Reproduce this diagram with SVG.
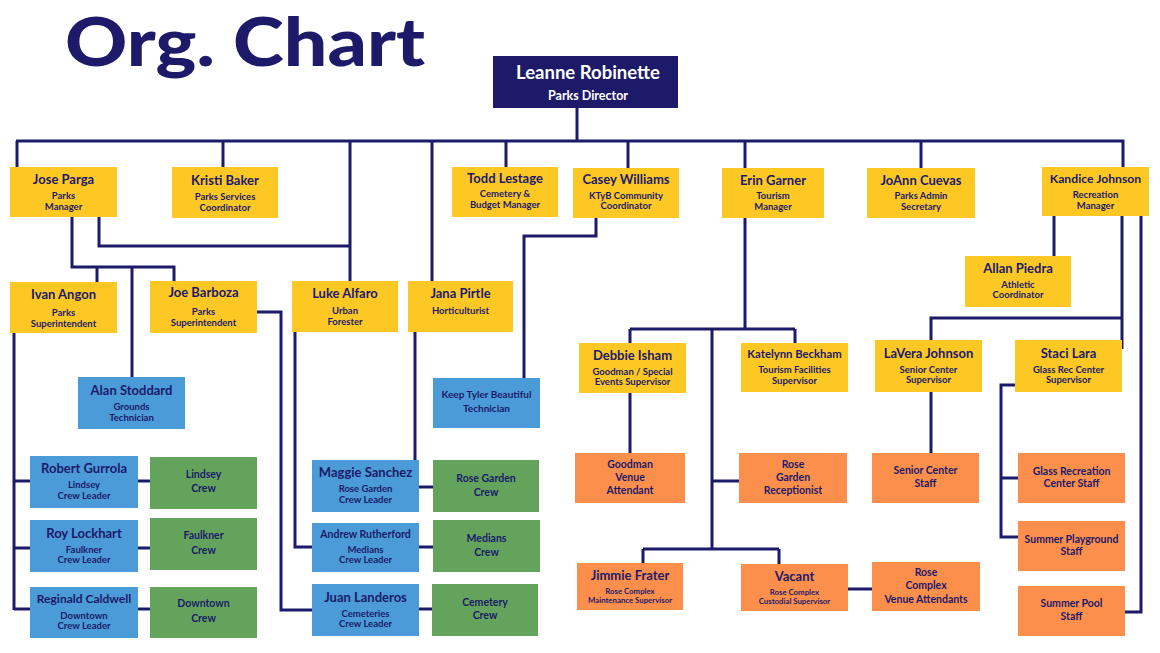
<svg xmlns="http://www.w3.org/2000/svg" width="1160" height="653" viewBox="0 0 1160 653">
<style>
.ln{fill:none;stroke:#1c1a69;stroke-width:3}
.y{fill:#fdc823}.b{fill:#4a9bd8}.g{fill:#63a35c}.o{fill:#fd8f4c}.r{fill:#1c1a69}
text{font-family:Lato,"Liberation Sans",sans-serif;fill:#1c1a69;text-anchor:middle;font-weight:700}
.n{font-size:13px}.s{font-size:9.5px}.c{font-size:10.5px}.t{font-size:7.8px}
.w{fill:#ffffff}
</style>
<rect width="1160" height="653" fill="#ffffff"/>
<text x="65" y="66" style="text-anchor:start;font-size:66px;font-weight:900" textLength="360" lengthAdjust="spacingAndGlyphs">Org. Chart</text>
<g id="connectors">
<path class="ln" d="M577,108V141M16,141H1123V167M17,141V167M223,141V167M350,141V281M432,141V281M506,141V167M628,141V168M745,141V168M921,141V168"/>
<path class="ln" d="M72,217V267H174V281M97,267V282M132,267V377M99,217V246H350"/>
<path class="ln" d="M14,333V610M14,481H30M14,548H30M14,609H30M138,481H150M138,548H150M138,609H150"/>
<path class="ln" d="M257,312H281V610H312M295,332V547H312M415,332V460M419,487H433M419,547H433M419,609H432"/>
<path class="ln" d="M596,218V236H524V378"/>
<path class="ln" d="M745,218V329M630,329H795M630,329V343M795,329V343M712,329V549M712,481H739M643,549H779M643,549V563M779,549V564M630,393V453M848,589H872"/>
<path class="ln" d="M1054,216V256M1122,216V349M1122,318H931V340M931,392V453M1015,385H1001V537H1018M1001,478H1018M1125,612H1141V216"/>
</g>
<g id="leanne"><rect class="r" x="493" y="56" width="185" height="52"/><text class="w" x="588" y="79" style="font-size:18.5px">Leanne Robinette</text><text class="w" x="588" y="100" style="font-size:12.5px">Parks Director</text></g>
<g id="jose"><rect class="y" x="10" y="167" width="107" height="50"/><text class="n" x="63.5" y="184">Jose Parga</text><text class="s" x="63.5" y="199">Parks</text><text class="s" x="63.5" y="210">Manager</text></g>
<g id="kristi"><rect class="y" x="172" y="167" width="106" height="51"/><text class="n" x="225" y="185">Kristi Baker</text><text class="s" x="225" y="200">Parks Services</text><text class="s" x="225" y="211">Coordinator</text></g>
<g id="todd"><rect class="y" x="452" y="167" width="106" height="50"/><text class="n" x="505" y="183">Todd Lestage</text><text class="s" x="505" y="197">Cemetery &amp;</text><text class="s" x="505" y="208">Budget Manager</text></g>
<g id="casey"><rect class="y" x="573" y="168" width="106" height="50"/><text class="n" x="626" y="184">Casey Williams</text><text class="s" x="626" y="199">KTyB Community</text><text class="s" x="626" y="209">Coordinator</text></g>
<g id="erin"><rect class="y" x="722" y="168" width="102" height="50"/><text class="n" x="773" y="185">Erin Garner</text><text class="s" x="773" y="199">Tourism</text><text class="s" x="773" y="210">Manager</text></g>
<g id="joann"><rect class="y" x="867" y="168" width="108" height="50"/><text class="n" x="921" y="185">JoAnn Cuevas</text><text class="s" x="921" y="199">Parks  Admin</text><text class="s" x="921" y="210">Secretary</text></g>
<g id="kandice"><rect class="y" x="1042" y="167" width="107" height="49"/><text class="n" x="1095.5" y="183" style="font-size:12.2px">Kandice Johnson</text><text class="s" x="1095.5" y="198">Recreation</text><text class="s" x="1095.5" y="209">Manager</text></g>
<g id="allan"><rect class="y" x="965" y="256" width="106" height="51"/><text class="n" x="1018" y="273">Allan Piedra</text><text class="s" x="1018" y="288">Athletic</text><text class="s" x="1018" y="298">Coordinator</text></g>
<g id="ivan"><rect class="y" x="10" y="282" width="107" height="51"/><text class="n" x="63.5" y="299">Ivan Angon</text><text class="s" x="63.5" y="316">Parks</text><text class="s" x="63.5" y="327">Superintendent</text></g>
<g id="joe"><rect class="y" x="150" y="281" width="107" height="52"/><text class="n" x="203.5" y="297">Joe Barboza</text><text class="s" x="203.5" y="315">Parks</text><text class="s" x="203.5" y="326">Superintendent</text></g>
<g id="luke"><rect class="y" x="292" y="281" width="106" height="51"/><text class="n" x="345" y="298">Luke Alfaro</text><text class="s" x="345" y="314">Urban</text><text class="s" x="345" y="325">Forester</text></g>
<g id="jana"><rect class="y" x="408" y="281" width="105" height="51"/><text class="n" x="460.5" y="298">Jana Pirtle</text><text class="s" x="460.5" y="314">Horticulturist</text></g>
<g id="debbie"><rect class="y" x="579" y="343" width="107" height="50"/><text class="n" x="632.5" y="360">Debbie Isham</text><text class="s" x="632.5" y="375">Goodman / Special</text><text class="s" x="632.5" y="385">Events Supervisor</text></g>
<g id="katelynn"><rect class="y" x="741" y="343" width="107" height="49"/><text class="n" x="794.5" y="358" style="font-size:11.3px">Katelynn Beckham</text><text class="s" x="794.5" y="373">Tourism Facilities</text><text class="s" x="794.5" y="384">Supervisor</text></g>
<g id="lavera"><rect class="y" x="875" y="340" width="107" height="52"/><text class="n" x="928.5" y="358">LaVera Johnson</text><text class="s" x="928.5" y="373">Senior Center</text><text class="s" x="928.5" y="383">Supervisor</text></g>
<g id="staci"><rect class="y" x="1015" y="340" width="107" height="52"/><text class="n" x="1068.5" y="358">Staci Lara</text><text class="s" x="1068.5" y="373">Glass Rec Center</text><text class="s" x="1068.5" y="383">Supervisor</text></g>
<g id="alan"><rect class="b" x="78" y="377" width="107" height="52"/><text class="n" x="131.5" y="395">Alan Stoddard</text><text class="s" x="131.5" y="410">Grounds</text><text class="s" x="131.5" y="421">Technician</text></g>
<g id="robert"><rect class="b" x="30" y="456" width="108" height="52"/><text class="n" x="84" y="473">Robert Gurrola</text><text class="s" x="84" y="488">Lindsey</text><text class="s" x="84" y="499">Crew Leader</text></g>
<g id="roy"><rect class="b" x="30" y="520" width="108" height="52"/><text class="n" x="84" y="538">Roy Lockhart</text><text class="s" x="84" y="553">Faulkner</text><text class="s" x="84" y="563">Crew Leader</text></g>
<g id="reginald"><rect class="b" x="30" y="587" width="108" height="51"/><text class="n" x="84" y="603" style="font-size:12px">Reginald Caldwell</text><text class="s" x="84" y="619">Downtown</text><text class="s" x="84" y="629">Crew Leader</text></g>
<g id="keep"><rect class="b" x="433" y="378" width="107" height="50"/><text class="c" x="486.5" y="398" style="font-size:10px">Keep Tyler Beautiful</text><text class="c" x="486.5" y="412" style="font-size:10px">Technician</text></g>
<g id="maggie"><rect class="b" x="312" y="460" width="107" height="52"/><text class="n" x="365.5" y="477">Maggie Sanchez</text><text class="s" x="365.5" y="492">Rose Garden</text><text class="s" x="365.5" y="503">Crew Leader</text></g>
<g id="andrew"><rect class="b" x="312" y="523" width="107" height="49"/><text class="n" x="365.5" y="538" style="font-size:10.5px">Andrew Rutherford</text><text class="s" x="365.5" y="553">Medians</text><text class="s" x="365.5" y="563">Crew Leader</text></g>
<g id="juan"><rect class="b" x="312" y="584" width="107" height="52"/><text class="n" x="365.5" y="602">Juan Landeros</text><text class="s" x="365.5" y="617">Cemeteries</text><text class="s" x="365.5" y="627">Crew Leader</text></g>
<g id="lindsey"><rect class="g" x="150" y="457" width="107" height="52"/><text class="c" x="203.5" y="478">Lindsey</text><text class="c" x="203.5" y="492">Crew</text></g>
<g id="faulkner"><rect class="g" x="150" y="518" width="107" height="52"/><text class="c" x="203.5" y="539">Faulkner</text><text class="c" x="203.5" y="554">Crew</text></g>
<g id="downtown"><rect class="g" x="150" y="587" width="107" height="51"/><text class="c" x="203.5" y="607">Downtown</text><text class="c" x="203.5" y="622">Crew</text></g>
<g id="rosecrew"><rect class="g" x="433" y="460" width="106" height="52"/><text class="c" x="486" y="482">Rose Garden</text><text class="c" x="486" y="496">Crew</text></g>
<g id="medians"><rect class="g" x="433" y="520" width="107" height="52"/><text class="c" x="486.5" y="542">Medians</text><text class="c" x="486.5" y="556">Crew</text></g>
<g id="cemetery"><rect class="g" x="432" y="584" width="106" height="52"/><text class="c" x="485" y="606">Cemetery</text><text class="c" x="485" y="619">Crew</text></g>
<g id="goodman"><rect class="o" x="575" y="453" width="110" height="50"/><text class="c" x="630" y="468">Goodman</text><text class="c" x="630" y="481">Venue</text><text class="c" x="630" y="494">Attendant</text></g>
<g id="receptionist"><rect class="o" x="739" y="453" width="108" height="50"/><text class="c" x="793" y="468">Rose</text><text class="c" x="793" y="481">Garden</text><text class="c" x="793" y="494">Receptionist</text></g>
<g id="jimmie"><rect class="o" x="577" y="563" width="106" height="47"/><text class="n" x="630" y="580">Jimmie Frater</text><text class="t" x="630" y="594">Rose Complex</text><text class="t" x="630" y="603">Maintenance Supervisor</text></g>
<g id="vacant"><rect class="o" x="741" y="564" width="107" height="47"/><text class="n" x="794.5" y="581">Vacant</text><text class="t" x="794.5" y="595">Rose Complex</text><text class="t" x="794.5" y="604">Custodial Supervisor</text></g>
<g id="senior"><rect class="o" x="872" y="453" width="107" height="50"/><text class="c" x="925.5" y="474">Senior Center</text><text class="c" x="925.5" y="487">Staff</text></g>
<g id="rosecomplex"><rect class="o" x="872" y="562" width="108" height="49"/><text class="c" x="926" y="576">Rose</text><text class="c" x="926" y="589">Complex</text><text class="c" x="926" y="603">Venue Attendants</text></g>
<g id="glass"><rect class="o" x="1018" y="453" width="107" height="50"/><text class="c" x="1071.5" y="475">Glass Recreation</text><text class="c" x="1071.5" y="487">Center Staff</text></g>
<g id="playground"><rect class="o" x="1018" y="521" width="107" height="50"/><text class="c" x="1071.5" y="543">Summer Playground</text><text class="c" x="1071.5" y="555">Staff</text></g>
<g id="pool"><rect class="o" x="1018" y="586" width="107" height="50"/><text class="c" x="1071.5" y="607">Summer Pool</text><text class="c" x="1071.5" y="620">Staff</text></g>
</svg>
